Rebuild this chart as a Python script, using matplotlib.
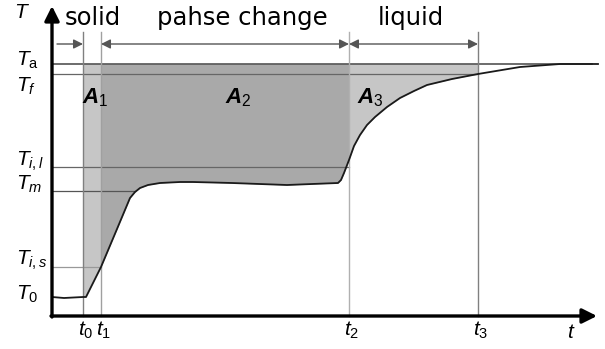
import numpy as np
import matplotlib
matplotlib.use("Agg")
from matplotlib import pyplot as plt

plt.rcParams['font.family'] = ['Liberation Sans', 'DejaVu Sans']
plt.rcParams['mathtext.fontset'] = 'custom'
plt.rcParams['mathtext.it'] = 'Liberation Sans:italic'
plt.rcParams['mathtext.rm'] = 'Liberation Sans'
plt.rcParams['mathtext.bf'] = 'Liberation Sans:bold:italic'

# temperature curve (arbitrary units)
t_curve = np.array([0, 12, 31, 34, 49, 65, 78, 83, 88, 96, 108, 128, 141,
                    180, 235, 260, 286, 289, 292, 297, 302, 308, 315, 323,
                    335, 348, 362, 375, 400, 426, 468, 508, 546])
T_curve = np.array([19, 18, 19, 19, 49, 87, 118, 124, 128, 131, 133, 134, 134,
                    133, 131, 132, 133, 136, 143, 156, 170, 181, 191, 199,
                    209, 218, 225, 231, 237, 242, 249, 252, 252])

# characteristic times and temperatures
t_marks = [31, 49, 297, 426]
t_names = [r'$t_0$', r'$t_1$', r'$t_2$', r'$t_3$']
T_a, T_f, T_il, T_m, T_is, T_0 = 252, 242, 149, 125, 49, 19
T_names = [r'$T_\mathrm{a}$', r'$T_f$', r'$T_{i,l}$', r'$T_m$', r'$T_{i,s}$', r'$T_\mathrm{0}$']
T_label_y = [250, 224, 150, 126, 51, 16]
phases = ['solid', 'pahse change', 'liquid']
phase_x = [41, 190, 359]
areas = [r'$\mathbf{A}_\mathrm{1}$', r'$\mathbf{A}_\mathrm{2}$', r'$\mathbf{A}_\mathrm{3}$']
area_x = [30, 173, 305]

fig = plt.figure(figsize=(6.05, 3.49), dpi=100)
ax = fig.add_axes([0, 0, 1, 1])
ax.set_xlim(-52, 553)
ax.set_ylim(-33, 316)
ax.axis('off')

t0, t1, t2, t3 = t_marks
light, dark = '#c6c6c6', '#a9a9a9'
ax.fill_between(t_curve, T_curve, T_a, where=(t_curve >= t0) & (t_curve <= t1),
                color=light, lw=0)
ax.fill_between(t_curve, T_curve, T_a, where=(t_curve >= t1) & (t_curve <= t2),
                color=dark, lw=0)
ax.fill_between(t_curve, T_curve, T_a, where=(t_curve >= t2) & (t_curve <= t3),
                color=light, lw=0)

# guide lines
ax.plot([0, 540], [T_a, T_a], color='#444444', lw=1.1)
ax.plot([0, t3], [T_f, T_f], color='#666666', lw=0.9)
ax.plot([0, t2], [T_il, T_il], color='#666666', lw=0.9)
ax.plot([0, 83], [T_m, T_m], color='#555555', lw=0.9)
ax.plot([0, t1], [T_is, T_is], color='#999999', lw=0.9)
for tm, c in zip(t_marks, ['#808080', '#a0a0a0', '#b0b0b0', '#808080']):
    ax.plot([tm, tm], [0, 284], color=c, lw=1.0)

ax.plot(t_curve, T_curve, color='#1a1a1a', lw=1.3)

# axes with arrow heads
ax.annotate('', xy=(0, 310), xytext=(0, -1),
            arrowprops=dict(arrowstyle='-|>', lw=2.4, color='k',
                            mutation_scale=22, shrinkA=0, shrinkB=0))
ax.annotate('', xy=(545, 0), xytext=(-1, 0),
            arrowprops=dict(arrowstyle='-|>', lw=2.4, color='k',
                            mutation_scale=22, shrinkA=0, shrinkB=0))

# phase arrows
arr = dict(color='#555555', lw=1.0, mutation_scale=14, shrinkA=0, shrinkB=0)
ax.annotate('', xy=(t0, 272), xytext=(5, 272), arrowprops=dict(arrowstyle='-|>', **arr))
ax.annotate('', xy=(t2, 272), xytext=(t1, 272), arrowprops=dict(arrowstyle='<|-|>', **arr))
ax.annotate('', xy=(t3, 272), xytext=(t2, 272), arrowprops=dict(arrowstyle='<|-|>', **arr))

for name, x in zip(phases, phase_x):
    ax.text(x, 298, name, fontsize=17.5, ha='center', va='center',
            family='DejaVu Sans')

for name, x in zip(areas, area_x):
    ax.text(x, 213, name, fontsize=16, ha='left', va='baseline')

for name, y in zip(T_names, T_label_y):
    ax.text(-36, y, name, fontsize=15, ha='left', va='baseline')
ax.text(-30, 304, r'$T$', fontsize=15, ha='center', va='center')

for name, x in zip(t_names, t_marks):
    ax.text(x - 5, -20, name, fontsize=15, ha='left', va='baseline')
ax.text(515, -22, r'$t$', fontsize=15, ha='left', va='baseline')

fig.savefig('out.png', dpi=100)
